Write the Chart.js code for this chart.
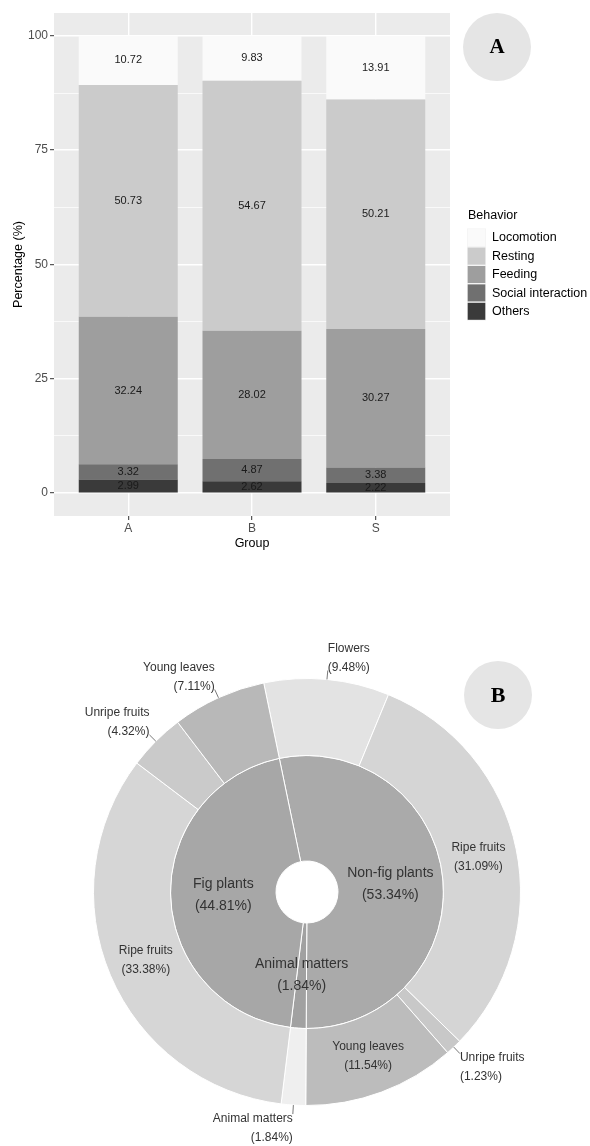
<!DOCTYPE html>
<html>
<head>
<meta charset="utf-8">
<script src="https://cdn.jsdelivr.net/npm/chart.js@4.4.1/dist/chart.umd.min.js"></script>
<style>
  html, body { margin: 0; padding: 0; background: #fff; }
  #wrap { position: relative; width: 590px; height: 1146px; }
  canvas { position: absolute; left: 0; }
</style>
</head>
<body>
<div id="wrap">
  <canvas id="barChart" width="590" height="570" style="top:0"></canvas>
  <canvas id="pieChart" width="590" height="576" style="top:570px"></canvas>
</div>
<script>
// --- panel A: behaviour budget per group
const groups = ['A', 'B', 'S'];
const behaviors = ['Locomotion', 'Resting', 'Feeding', 'Social interaction', 'Others'];
const locomotion = [10.72, 9.83, 13.91];
const resting = [50.73, 54.67, 50.21];
const feeding = [32.24, 28.02, 30.27];
const social = [3.32, 4.87, 3.38];
const others = [2.99, 2.62, 2.22];
const yTicks = [0, 25, 50, 75, 100];

// --- panel B: diet composition
const innerLabels = ['Non-fig plants', 'Animal matters', 'Fig plants'];
const innerValues = [53.34, 1.84, 44.81];
const outerLabels = ['Flowers', 'Ripe fruits', 'Unripe fruits', 'Young leaves',
                     'Animal matters', 'Ripe fruits', 'Unripe fruits', 'Young leaves'];
const outerValues = [9.48, 31.09, 1.23, 11.54, 1.84, 33.38, 4.32, 7.11];

const FONT = "'Liberation Sans', Arial, sans-serif";
Chart.defaults.font.family = FONT;

const series = [locomotion, resting, feeding, social, others];
const fills = ['#fafafa', '#cbcbcb', '#9e9e9e', '#707070', '#3a3a3a'];

// minor grid lines halfway between major ticks (ggplot style)
const yGrid = [];
yTicks.forEach((v, i) => {
  yGrid.push(v);
  if (i < yTicks.length - 1) yGrid.push((v + yTicks[i + 1]) / 2);
});

function drawBadge(ctx, x, y, letter, size) {
  ctx.save();
  ctx.beginPath();
  ctx.arc(x, y, 34, 0, Math.PI * 2);
  ctx.fillStyle = '#e5e5e5';
  ctx.fill();
  ctx.fillStyle = '#000';
  ctx.font = 'bold ' + size + "px 'Liberation Serif', 'Times New Roman', serif";
  ctx.textAlign = 'center';
  ctx.textBaseline = 'middle';
  ctx.fillText(letter, x, y + 1);
  ctx.restore();
}

const panelBg = {
  id: 'panelBg',
  beforeDraw(chart) {
    const a = chart.chartArea;
    chart.ctx.save();
    chart.ctx.fillStyle = '#ebebeb';
    chart.ctx.fillRect(a.left, a.top, a.right - a.left, a.bottom - a.top);
    chart.ctx.restore();
  }
};

const barLabels = {
  id: 'barLabels',
  afterDatasetsDraw(chart) {
    const ctx = chart.ctx;
    ctx.save();
    ctx.font = '11px ' + FONT;
    ctx.fillStyle = '#1a1a1a';
    ctx.textAlign = 'center';
    ctx.textBaseline = 'middle';
    chart.data.datasets.forEach((ds, d) => {
      chart.getDatasetMeta(d).data.forEach((bar, i) => {
        const p = bar.getProps(['x', 'y', 'base'], true);
        ctx.fillText(ds.data[i].y.toFixed(2), p.x, (p.y + p.base) / 2);
      });
    });
    ctx.restore();
  }
};

const sideLegend = {
  id: 'sideLegend',
  afterDraw(chart) {
    const ctx = chart.ctx;
    const x0 = chart.chartArea.right + 17;
    ctx.save();
    ctx.textBaseline = 'middle';
    ctx.textAlign = 'left';
    ctx.fillStyle = '#000';
    ctx.font = '12.5px ' + FONT;
    ctx.fillText('Behavior', x0 + 1, 216);
    behaviors.forEach((b, k) => {
      const top = 228.5 + k * 18.4;
      ctx.fillStyle = '#f2f2f2';
      ctx.fillRect(x0, top, 19, 18.4);
      ctx.fillStyle = fills[k];
      ctx.fillRect(x0 + 0.7, top + 0.7, 17.6, 17);
      ctx.fillStyle = '#000';
      ctx.font = '12.5px ' + FONT;
      ctx.fillText(b, x0 + 25, top + 9.5);
    });
    ctx.restore();
    drawBadge(ctx, 497, 47, 'A', 21);
  }
};

const barDatasets = behaviors.map((name, k) => ({
  label: name,
  data: groups.map((g, i) => ({ x: i + 1, y: series[k][i] })),
  backgroundColor: fills[k],
  borderWidth: 0,
  barPercentage: 0.8,
  categoryPercentage: 1
})).reverse();

new Chart(document.getElementById('barChart'), {
  type: 'bar',
  data: { datasets: barDatasets },
  options: {
    responsive: false,
    animation: false,
    layout: { padding: { top: 13, right: 140, bottom: 0, left: 0 } },
    plugins: { legend: { display: false }, tooltip: { enabled: false } },
    scales: {
      x: {
        type: 'linear',
        min: 0.4,
        max: 3.6,
        offset: false,
        stacked: true,
        afterBuildTicks: s => { s.ticks = groups.map((g, i) => ({ value: i + 1 })); },
        afterFit: s => { s.height = 54; },
        ticks: {
          callback: (v, i) => groups[i],
          color: '#4d4d4d',
          font: { size: 12 },
          padding: 1,
          maxRotation: 0,
          autoSkip: false
        },
        grid: { offset: false, color: '#ffffff', lineWidth: 1.4, tickLength: 4, tickColor: '#333333', tickWidth: 1 },
        border: { display: false },
        title: { display: true, text: 'Group', color: '#000', font: { size: 12.5 }, padding: { top: 0, bottom: 19 } }
      },
      y: {
        min: -5,
        max: 105,
        stacked: true,
        afterBuildTicks: s => { s.ticks = yGrid.map(v => ({ value: v })); },
        afterFit: s => { s.width = 54; },
        ticks: {
          callback: v => yTicks.includes(v) ? String(v) : '',
          color: '#4d4d4d',
          font: { size: 12 },
          padding: 2,
          autoSkip: false
        },
        grid: {
          color: '#ffffff',
          lineWidth: c => yTicks.includes(c.tick.value) ? 1.4 : 0.7,
          tickColor: c => yTicks.includes(c.tick.value) ? '#333333' : 'rgba(0,0,0,0)',
          tickLength: 4,
          tickWidth: 1
        },
        border: { display: false },
        title: { display: true, text: 'Percentage (%)', color: '#000', font: { size: 12.5 }, padding: { top: 11, bottom: 0 } }
      }
    }
  },
  plugins: [panelBg, barLabels, sideLegend]
});

// --- panel B
const pieLabels = {
  id: 'pieLabels',
  afterDatasetsDraw(chart) {
    const ctx = chart.ctx;
    ctx.save();
    ctx.textBaseline = 'middle';
    ctx.fillStyle = '#333';
    ctx.strokeStyle = '#555';
    ctx.lineWidth = 0.8;
    chart.data.datasets.forEach((ds, d) => {
      const isInner = d === 1;
      const names = isInner ? innerLabels : outerLabels;
      chart.getDatasetMeta(d).data.forEach((arc, i) => {
        const p = arc.getProps(['x', 'y', 'startAngle', 'endAngle', 'innerRadius', 'outerRadius'], true);
        const a = (p.startAngle + p.endAngle) / 2;
        const cos = Math.cos(a), sin = Math.sin(a);
        const lines = [names[i], '(' + ds.data[i].toFixed(2) + '%)'];
        if (!isInner && ds.data[i] < 10) {
          const ex = p.x + cos * p.outerRadius, ey = p.y + sin * p.outerRadius;
          const tx = p.x + cos * (p.outerRadius + 9), ty = p.y + sin * (p.outerRadius + 9);
          ctx.beginPath();
          ctx.moveTo(ex, ey);
          ctx.lineTo(tx, ty);
          ctx.stroke();
          ctx.font = '12px ' + FONT;
          ctx.textAlign = cos >= 0 ? 'left' : 'right';
          const y1 = sin < 0 ? ty - 3 - 19 : ty + 4.5;
          ctx.fillText(lines[0], tx, y1);
          ctx.fillText(lines[1], tx, y1 + 19);
        } else {
          const r = (p.innerRadius + p.outerRadius) / 2;
          const cx = p.x + cos * r, cy = p.y + sin * r;
          const gap = isInner ? 22 : 19;
          ctx.font = (isInner ? 14 : 12) + 'px ' + FONT;
          ctx.textAlign = 'center';
          ctx.fillText(lines[0], cx, cy - gap / 2);
          ctx.fillText(lines[1], cx, cy + gap / 2);
        }
      });
    });
    ctx.restore();
    drawBadge(ctx, 498, 125, 'B', 22);
  }
};

new Chart(document.getElementById('pieChart'), {
  type: 'doughnut',
  data: {
    datasets: [
      {
        data: outerValues,
        backgroundColor: ['#e3e3e3', '#d5d5d5', '#c8c8c8', '#bcbcbc', '#efefef', '#d6d6d6', '#cacaca', '#b8b8b8'],
        borderColor: '#ffffff',
        borderWidth: 1,
        weight: 77
      },
      {
        data: innerValues,
        backgroundColor: ['#aaaaaa', '#a1a1a1', '#a7a7a7'],
        borderColor: '#ffffff',
        borderWidth: 1,
        weight: 105.5
      }
    ]
  },
  options: {
    responsive: false,
    animation: false,
    rotation: -11.7,
    cutout: 31,
    layout: { padding: { left: 93, right: 69, top: 108, bottom: 40 } },
    plugins: { legend: { display: false }, tooltip: { enabled: false } }
  },
  plugins: [pieLabels]
});
</script>
</body>
</html>
